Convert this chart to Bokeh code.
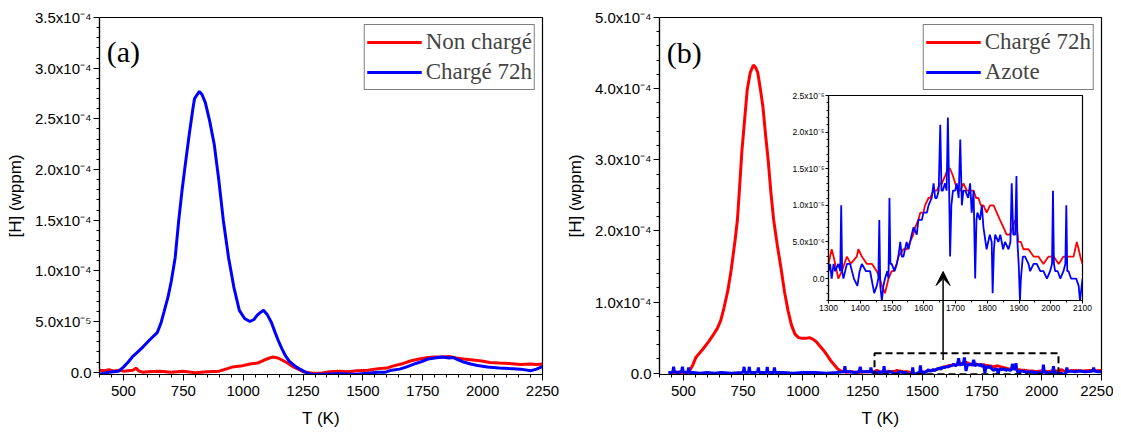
import numpy as np
from bokeh.plotting import figure
from bokeh.layouts import row
from bokeh.models import (Range1d, FixedTicker, CustomJSTickFormatter, Legend, LegendItem,
                          Label, BoxAnnotation, Arrow, VeeHead)
from bokeh.embed import file_html
from bokeh.resources import INLINE

# ---------------- DATA ----------------
E5 = 1e-5   # values below are given in units of 1e-5 wppm
E6 = 1e-6   # inset values in units of 1e-6 wppm

# Panel (a) - Non chargé (red)
a_nc_T = [400, 420, 440, 460, 480, 500, 520, 540, 552, 565,
          580, 600, 650, 700, 750, 800, 850, 900, 954, 990,
          1028, 1060, 1088, 1110, 1125, 1145, 1162, 1185, 1207, 1230,
          1251, 1290, 1326, 1360, 1400, 1440, 1475, 1520, 1564, 1600,
          1624, 1660, 1698, 1735, 1772, 1800, 1832, 1860, 1890, 1921,
          1960, 1996, 2030, 2068, 2110, 2158, 2200, 2225, 2250]
a_nc_H = [0.2, 0.15, 0.25, 0.1, 0.2, 0.1, 0.15, 0.2, 0.4, 0.1,
          0.0, 0.05, 0.1, 0.0, 0.1, -0.05, 0.05, 0.1, 0.5, 0.6,
          0.8, 0.9, 1.2, 1.4, 1.5, 1.4, 1.2, 0.9, 0.55, 0.3,
          0.05, -0.1, -0.1, 0.05, 0.1, 0.05, 0.15, 0.2, 0.35, 0.4,
          0.6, 0.8, 1.1, 1.3, 1.45, 1.5, 1.5, 1.55, 1.4, 1.3,
          1.2, 1.1, 0.95, 0.9, 0.85, 0.75, 0.8, 0.75, 0.8]

# Panel (a) - Chargé 72h (blue)
a_ch_T = [400, 420, 440, 460, 480, 500, 520, 537, 560, 582,
          610, 641, 656, 670, 686, 700, 716, 731, 745, 760,
          775, 790, 797, 808, 817, 828, 842, 860, 879, 898,
          917, 939, 961, 984, 1006, 1028, 1045, 1058, 1072, 1085,
          1100, 1118, 1132, 1147, 1162, 1177, 1192, 1207, 1222, 1237,
          1260, 1281, 1326, 1400, 1475, 1519, 1560, 1594, 1620, 1653,
          1680, 1713, 1740, 1772, 1800, 1832, 1860, 1876, 1900, 1921,
          1950, 1979, 2020, 2068, 2110, 2158, 2202, 2225, 2244, 2250]
a_ch_H = [-0.2, -0.1, 0.0, 0.05, 0.1, 0.5, 1.0, 1.5, 2.0, 2.5,
          3.2, 3.9, 4.8, 6.0, 7.4, 9.0, 11.3, 15.0, 18.0, 20.8,
          23.5, 26.0, 27.0, 27.4, 27.7, 27.4, 26.6, 24.8, 22.5, 19.0,
          15.0, 11.3, 8.4, 6.1, 5.3, 5.0, 5.2, 5.6, 5.9, 6.1,
          5.7, 4.9, 4.0, 3.1, 2.3, 1.6, 1.1, 0.8, 0.5, 0.3,
          0.0, -0.2, -0.2, -0.15, -0.2, -0.1, 0.0, 0.0, 0.2, 0.3,
          0.5, 0.8, 1.0, 1.3, 1.4, 1.5, 1.4, 1.45, 1.2, 1.0,
          0.8, 0.65, 0.5, 0.4, 0.35, 0.3, 0.15, 0.3, 0.5, 0.5]

# Panel (b) - Chargé 72h (red), below 1300 K and above 2100 K
b_ch_lo_T = [440, 480, 522, 540, 552, 567, 582, 605, 627, 642,
             656, 670, 686, 700, 716, 726, 736, 745, 756, 767,
             780, 793, 802, 811, 822, 833, 844, 855, 866, 878,
             893, 908, 923, 938, 952, 967, 982, 997, 1012, 1027,
             1042, 1057, 1072, 1087, 1102, 1116, 1131, 1146, 1161, 1176,
             1200, 1230, 1260, 1290]
b_ch_lo_H = [0.1, 0.15, 0.1, 1.2, 2.2, 2.8, 3.4, 4.4, 5.5, 6.3,
             7.4, 9.2, 11.6, 14.5, 18.6, 21.5, 26.5, 31.3, 35.5, 39.8,
             42.3, 43.3, 43.0, 42.3, 40.0, 37.4, 33.5, 29.9, 25.5, 21.5,
             18.0, 14.9, 11.5, 8.8, 6.8, 5.5, 5.0, 4.9, 4.9, 5.0,
             4.8, 4.4, 3.8, 3.2, 2.5, 1.8, 1.2, 0.6, 0.3, 0.15,
             0.2, 0.1, 0.2, 0.2]
b_ch_hi_T = [2110, 2140, 2170, 2200, 2230, 2250]
b_ch_hi_H = [0.3, 0.4, 0.3, 0.4, 0.35, 0.4]

# Panel (b) - Azote (blue), below 1300 K and above 2100 K
b_az_lo_T = [437, 450, 456, 459, 462, 475, 490, 493, 496, 499,
             510, 519, 522, 525, 540, 570, 600, 630, 660, 700,
             745, 751, 754, 757, 770, 773, 776, 779, 800, 811,
             814, 817, 840, 848, 851, 854, 870, 878, 881, 884,
             920, 960, 1000, 1050, 1100, 1140, 1170, 1173, 1176, 1179,
             1200, 1215, 1236, 1240, 1244, 1265, 1282, 1285, 1288, 1295]
b_az_lo_H = [0.1, 0.1, 0.2, 0.9, 0.2, 0.1, 0.2, 0.3, 0.9, 0.2,
             0.1, 0.2, 0.8, 0.1, 0.1, 0.0, 0.1, 0.0, 0.1, 0.0,
             0.1, 0.2, 0.9, 0.1, 0.1, 0.2, 0.9, 0.1, 0.1, 0.2,
             0.8, 0.1, 0.1, 0.1, 0.9, 0.1, 0.1, 0.1, 0.8, 0.1,
             0.1, 0.0, 0.1, 0.1, 0.0, 0.1, 0.2, 0.3, 1.0, 0.2,
             0.2, 0.1, 0.2, 0.9, 0.2, 0.2, 0.2, 0.8, 0.2, 0.1]
b_az_hi_T = [2102, 2105, 2108, 2120, 2140, 2160, 2180, 2200, 2214, 2217, 2220, 2235, 2250]
b_az_hi_H = [0.2, 0.8, 0.2, 0.3, 0.2, 0.3, 0.2, 0.25, 0.3, 0.8, 0.3, 0.2, 0.2]

# Inset (1300-2100 K) - Chargé 72h (red), units 1e-6
in_ch_T = [1300, 1305, 1310, 1316, 1321, 1331, 1342, 1358, 1370, 1389,
           1394, 1405, 1421, 1437, 1452, 1462, 1468, 1478, 1489, 1499,
           1505, 1515, 1520, 1536, 1546, 1557, 1567, 1573, 1583, 1589,
           1599, 1604, 1615, 1620, 1631, 1641, 1652, 1657, 1667, 1676,
           1683, 1692, 1699, 1708, 1715, 1725, 1736, 1746, 1757, 1765,
           1772, 1780, 1788, 1798, 1809, 1820, 1830, 1840, 1851, 1861,
           1872, 1880, 1888, 1893, 1898, 1906, 1914, 1930, 1946, 1961,
           1977, 1993, 2009, 2025, 2040, 2050, 2061, 2072, 2082, 2088,
           2093, 2100]
in_ch_H = [2, 3, 4, 3, 2, 0, 1, 3, 2, 3,
           4, 3, 2, 2, 1, 0, -1, -2, 0, 1,
           1, 2, 3, 4, 4, 5, 6, 7, 8, 9,
           9, 10, 11, 11, 12, 12, 13, 13, 14, 15,
           15, 14, 13, 12, 12, 13, 12, 12, 12, 11,
           11, 10, 10, 9, 10, 10, 9, 8, 7, 6,
           6, 7, 8, 7, 5, 5, 4, 4, 3, 3,
           2, 3, 3, 2, 3, 3, 3, 3, 5, 4,
           3, 2]

# Inset - Azote (blue), units 1e-6
in_az_T = [1300, 1305, 1310, 1316, 1321, 1331, 1337, 1340, 1343, 1347,
           1358, 1368, 1380, 1391, 1398, 1405, 1418, 1431, 1444, 1452,
           1457, 1460, 1463, 1468, 1473, 1478, 1485, 1489, 1492, 1495,
           1499, 1508, 1515, 1520, 1526, 1531, 1536, 1546, 1552, 1562,
           1568, 1578, 1583, 1594, 1599, 1610, 1615, 1625, 1631, 1636,
           1641, 1647, 1652, 1656, 1660, 1667, 1672, 1676, 1680, 1683,
           1687, 1692, 1699, 1704, 1710, 1715, 1720, 1725, 1731, 1740,
           1746, 1751, 1757, 1762, 1766, 1769, 1777, 1783, 1788, 1798,
           1808, 1814, 1817, 1821, 1825, 1835, 1841, 1850, 1856, 1867,
           1873, 1877, 1882, 1888, 1892, 1895, 1899, 1903, 1906, 1912,
           1919, 1930, 1935, 1946, 1956, 1967, 1977, 1988, 1998, 2004,
           2007, 2010, 2014, 2022, 2030, 2040, 2046, 2049, 2052, 2056,
           2064, 2072, 2080, 2088, 2092, 2095, 2100]
in_az_H = [1, 2, 0, 2, 1, 2, 1, 10, 1, 0,
           2, 2, 0, -1, 1, 2, 1, 1, -2, -1,
           0, 8, -1, -3, -1, 0, 1, 0, 11, 2,
           2, 1, 2, 3, 5, 3, 3, 5, 4, 6,
           7, 6, 8, 8, 9, 9, 10, 11, 13, 11,
           11, 12, 21, 12, 12, 13, 12, 22, 12, 3,
           10, 12, 12, 13, 11, 19, 10, 12, 12, 11,
           13, 9, 12, 0, 8, 9, 8, 10, 7, 4,
           6, 5, -2, 4, 6, 5, 6, 4, 5, 4,
           5, 13, 6, 6, 14, 5, 2, -3, 0, 3,
           3, 2, 1, 2, 2, 1, 1, 0, 1, 2,
           12, 2, 1, 1, 0, 1, 2, 10, 1, 1,
           0, 0, 0, -1, -3, -2, 0]

x_ticks = [500, 750, 1000, 1250, 1500, 1750, 2000, 2250]
ya_ticks = [0, 5e-5, 1e-4, 1.5e-4, 2e-4, 2.5e-4, 3e-4, 3.5e-4]
yb_ticks = [0, 1e-4, 2e-4, 3e-4, 4e-4, 5e-4]
in_x_ticks = [1300, 1400, 1500, 1600, 1700, 1800, 1900, 2000, 2100]
in_y_ticks = [0, 5e-6, 1e-5, 1.5e-5, 2e-5, 2.5e-5]

# ---------------- STYLE ----------------
RED = "#ff0000"
BLUE = "#0000ff"
SERIF = "Liberation Serif"
SANS = "Liberation Sans"

FMT = """
if (Math.abs(tick) < 1e-12) { return "0.0"; }
const sup = {"-": "\\u207b", "0": "\\u2070", "1": "\\u00b9", "2": "\\u00b2", "3": "\\u00b3",
             "4": "\\u2074", "5": "\\u2075", "6": "\\u2076", "7": "\\u2077", "8": "\\u2078", "9": "\\u2079"};
const e = Math.floor(Math.log10(Math.abs(tick)) + 1e-9);
const m = tick / Math.pow(10, e);
const es = String(e).split("").map(c => sup[c]).join("");
return m.toFixed(1) + "x10" + es;
"""


def minor(lo, hi, step):
    n = int(round((hi - lo) / step))
    return [lo + i * step for i in range(n + 1)]


def style(p, xt, xm, yt, ym, fs, tout, mout, stand):
    p.xaxis.ticker = FixedTicker(ticks=xt, minor_ticks=xm)
    p.yaxis.ticker = FixedTicker(ticks=yt, minor_ticks=ym)
    p.yaxis.formatter = CustomJSTickFormatter(code=FMT)
    p.xgrid.visible = False
    p.ygrid.visible = False
    p.outline_line_color = "black"
    p.outline_line_width = 1.2
    p.outline_line_alpha = 1
    for ax in p.axis:
        ax.axis_line_color = "black"
        ax.axis_line_width = 1.2
        ax.major_tick_line_color = "black"
        ax.minor_tick_line_color = "black"
        ax.major_tick_in = 0
        ax.major_tick_out = tout
        ax.minor_tick_in = 0
        ax.minor_tick_out = mout
        ax.major_label_text_font = SANS
        ax.major_label_text_font_size = fs
        ax.major_label_text_color = "black"
        ax.major_label_standoff = stand
        ax.axis_label_text_font = SANS
        ax.axis_label_text_font_size = "17px"
        ax.axis_label_text_font_style = "normal"
        ax.axis_label_text_color = "black"


def make_legend(items):
    return Legend(items=items, location="top_right", margin=7, padding=2, spacing=0,
                  glyph_width=55, glyph_height=30, label_height=30, label_standoff=4,
                  label_text_font=SERIF, label_text_font_size="23px",
                  border_line_color="black", border_line_width=1,
                  background_fill_alpha=1)


def main_axes(p):
    p.xaxis.axis_label = "T (K)"
    p.yaxis.axis_label = "[H] (wppm)"
    p.xaxis.major_label_standoff = 5
    p.xaxis.axis_label_standoff = 10
    p.yaxis.axis_label_standoff = 7


# ---------------- PANEL (a) ----------------
pa = figure(width=560, height=434, x_range=Range1d(400, 2250), y_range=Range1d(-2.3e-6, 3.5e-4),
            output_backend="svg", toolbar_location=None,
            min_border_left=99, min_border_right=18, min_border_top=17, min_border_bottom=60)
style(pa, x_ticks, minor(400, 2250, 50), ya_ticks, minor(0, 3.5e-4, 1e-5), "15px", 6, 3, 2)
main_axes(pa)

ra1 = pa.line(a_nc_T, np.array(a_nc_H) * E5, line_color=RED, line_width=3)
ra2 = pa.line(a_ch_T, np.array(a_ch_H) * E5, line_color=BLUE, line_width=3)
pa.add_layout(make_legend([LegendItem(label="Non chargé", renderers=[ra1]),
                           LegendItem(label="Chargé 72h", renderers=[ra2])]))
pa.add_layout(Label(x=430, y=3.16e-4, text="(a)", text_font=SERIF, text_font_size="30px",
                    text_baseline="middle", text_color="black"))

# ---------------- PANEL (b) ----------------
pb = figure(width=553, height=434, x_range=Range1d(400, 2250), y_range=Range1d(-1.8e-6, 5e-4),
            output_backend="svg", toolbar_location=None,
            min_border_left=99, min_border_right=12, min_border_top=17, min_border_bottom=60)
style(pb, x_ticks, minor(400, 2250, 50), yb_ticks, minor(0, 5e-4, 2e-5), "15px", 6, 3, 2)
main_axes(pb)

b_ch_T = b_ch_lo_T + in_ch_T + b_ch_hi_T
b_ch_H = np.concatenate([np.array(b_ch_lo_H) * E5, np.array(in_ch_H) * E6, np.array(b_ch_hi_H) * E5])
b_az_T = b_az_lo_T + in_az_T + b_az_hi_T
b_az_H = np.concatenate([np.array(b_az_lo_H) * E5, np.array(in_az_H) * E6, np.array(b_az_hi_H) * E5])

rb1 = pb.line(b_ch_T, b_ch_H, line_color=RED, line_width=3)
rb2 = pb.line(b_az_T, b_az_H, line_color=BLUE, line_width=3)
pb.add_layout(make_legend([LegendItem(label="Chargé 72h", renderers=[rb1]),
                           LegendItem(label="Azote", renderers=[rb2])]))
pb.add_layout(Label(x=430, y=4.51e-4, text="(b)", text_font=SERIF, text_font_size="30px",
                    text_baseline="middle", text_color="black"))
pb.add_layout(BoxAnnotation(left=1300, right=2070, bottom=-1.5e-6, top=2.8e-5,
                            fill_alpha=0, line_color="black", line_width=2, line_dash="7 4",
                            line_alpha=1))
pb.add_layout(Arrow(x_start=1587, y_start=1.85e-5, x_end=1587, y_end=1.43e-4,
                    line_color="black", line_width=1.5,
                    end=VeeHead(size=14, fill_color="black", line_color="black")))

# ---------------- INSET ----------------
# (inside the row, Bokeh aligns the top/bottom borders with the main panels: 17 / 60 px)
pi = figure(width=311, height=282, x_range=Range1d(1300, 2100), y_range=Range1d(-3e-6, 2.5e-5),
            output_backend="svg", toolbar_location=None,
            min_border_left=45, min_border_right=12, min_border_top=17, min_border_bottom=60,
            background_fill_alpha=0, border_fill_alpha=0,
            styles={"position": "absolute", "left": "783px", "top": "78px"})
style(pi, in_x_ticks, minor(1300, 2100, 50), in_y_ticks, minor(-3e-6, 2.5e-5, 1e-6), "8.5px", 3, 2, 1)
pi.line(in_ch_T, np.array(in_ch_H) * E6, line_color=RED, line_width=1.8)
pi.line(in_az_T, np.array(in_az_H) * E6, line_color=BLUE, line_width=1.8)

layout = row(pa, pb, pi)
open("out.html", "w").write(file_html(layout, INLINE))
